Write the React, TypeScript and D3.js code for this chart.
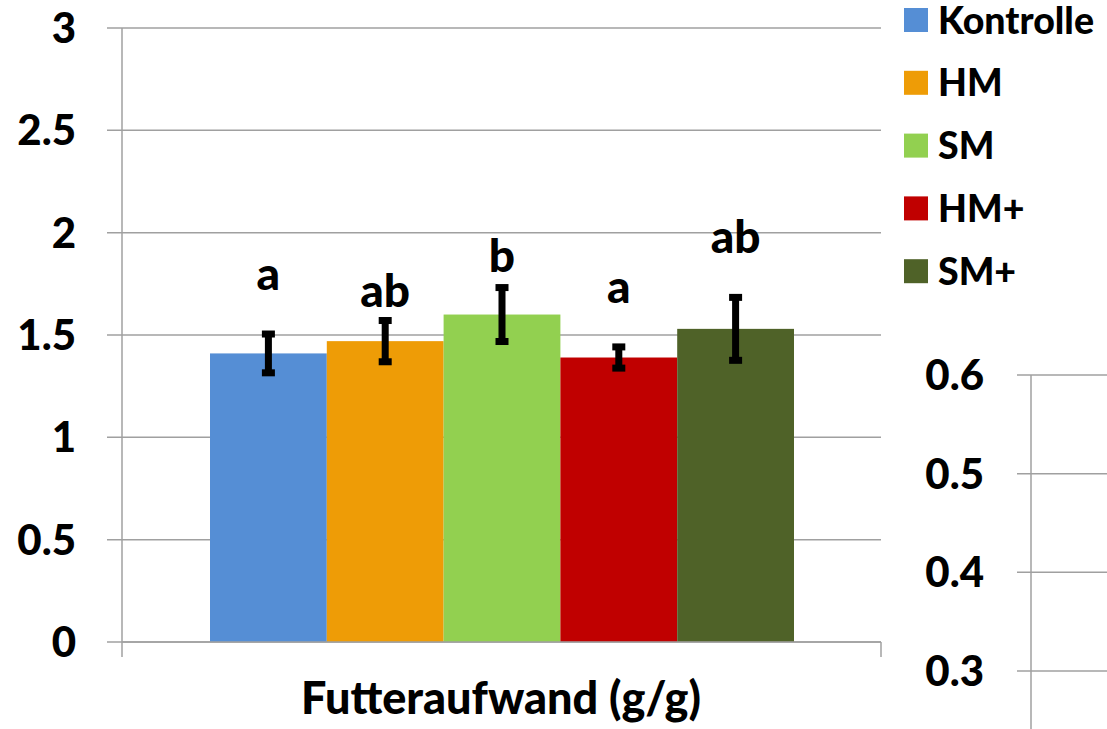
import React from "react";
import * as d3 from "d3";

// Feed conversion per treatment group
const categories = ["Kontrolle", "HM", "SM", "HM+", "SM+"];
const means = [1.41, 1.47, 1.6, 1.39, 1.53];
const errors = [0.107, 0.113, 0.144, 0.064, 0.166];
const letters = ["a", "ab", "b", "a", "ab"];
// height (in data units) where each significance letter sits
const letterAt = [1.72, 1.637, 1.808, 1.656, 1.9];
const colors = ["#558ED5", "#EE9C06", "#92D050", "#C00000", "#4F6228"];
const yTicks = [0, 0.5, 1, 1.5, 2, 2.5, 3];
const xTitle = "Futteraufwand (g/g)";

// neighbouring panel, partly visible
const y2Ticks = [0.3, 0.4, 0.5, 0.6];

const W = 1107;
const H = 729;
const FONT = "Lato, 'Open Sans', sans-serif";

export default function App() {
  const plotLeft = 122;
  const plotRight = 881;
  const y = d3.scaleLinear().domain([0, 3]).range([642, 28]);
  const x = d3.scaleBand<string>().domain(categories).range([210, 794]).paddingInner(0);
  const y2 = d3.scaleLinear().domain([0.3, 0.6]).range([671, 375]);
  const gridColor = "#A0A0A0";

  return (
    <svg
      width={W}
      height={H}
      style={{ position: "absolute", left: 0, top: 0, background: "#fff" }}
      fontFamily={FONT}
    >
      {/* gridlines and tick labels */}
      {yTicks.map((t) => (
        <g key={t}>
          <line x1={107} x2={plotRight} y1={y(t)} y2={y(t)} stroke={gridColor} strokeWidth={1.5} />
          <text x={76} y={y(t)} dy="0.36em" textAnchor="end" fontSize={42} fontWeight={900} fill="#000">
            {String(t)}
          </text>
        </g>
      ))}
      {/* axes */}
      <line x1={plotLeft} x2={plotLeft} y1={y(3)} y2={657} stroke={gridColor} strokeWidth={1.5} />
      <line x1={plotRight} x2={plotRight} y1={y(0)} y2={657} stroke={gridColor} strokeWidth={1.5} />

      {/* bars */}
      {categories.map((c, i) => (
        <rect
          key={c}
          x={x(c)}
          y={y(means[i])}
          width={x.bandwidth()}
          height={y(0) - y(means[i])}
          fill={colors[i]}
        />
      ))}
      <line x1={plotLeft} x2={plotRight} y1={y(0)} y2={y(0)} stroke={gridColor} strokeWidth={1.5} />

      {/* error bars */}
      {categories.map((c, i) => {
        const cx = (x(c) as number) + x.bandwidth() / 2;
        const top = y(means[i] + errors[i]);
        const bot = y(means[i] - errors[i]);
        return (
          <g key={c} fill="#000">
            <rect x={cx - 3.5} y={top} width={7} height={bot - top} />
            <rect x={cx - 6.5} y={top - 1} width={13} height={7} />
            <rect x={cx - 6.5} y={bot - 6} width={13} height={7} />
          </g>
        );
      })}

      {/* significance letters */}
      {categories.map((c, i) => (
        <text
          key={c}
          x={(x(c) as number) + x.bandwidth() / 2}
          y={y(letterAt[i])}
          textAnchor="middle"
          fontSize={46}
          fontWeight={900}
          fill="#000"
        >
          {letters[i]}
        </text>
      ))}

      {/* axis title */}
      <text x={501} y={714} textAnchor="middle" fontSize={45} fontWeight={900} fill="#000">
        {xTitle}
      </text>

      {/* legend */}
      {categories.map((c, i) => {
        const cy = 20 + i * 62.8;
        return (
          <g key={c}>
            <rect x={904} y={cy - 12} width={24} height={24} fill={colors[i]} />
            <text x={938} y={cy} dy="0.36em" fontSize={37.5} fontWeight={900} fill="#000">
              {c}
            </text>
          </g>
        );
      })}

      {/* neighbouring panel axis */}
      {y2Ticks.map((t) => (
        <g key={t}>
          <line x1={1017} x2={W} y1={y2(t)} y2={y2(t)} stroke={gridColor} strokeWidth={1.5} />
          <text x={984} y={y2(t)} dy="0.36em" textAnchor="end" fontSize={42} fontWeight={900} fill="#000">
            {d3.format(".1f")(t)}
          </text>
        </g>
      ))}
      <line x1={1031} x2={1031} y1={y2(0.6)} y2={H} stroke={gridColor} strokeWidth={1.5} />
    </svg>
  );
}
